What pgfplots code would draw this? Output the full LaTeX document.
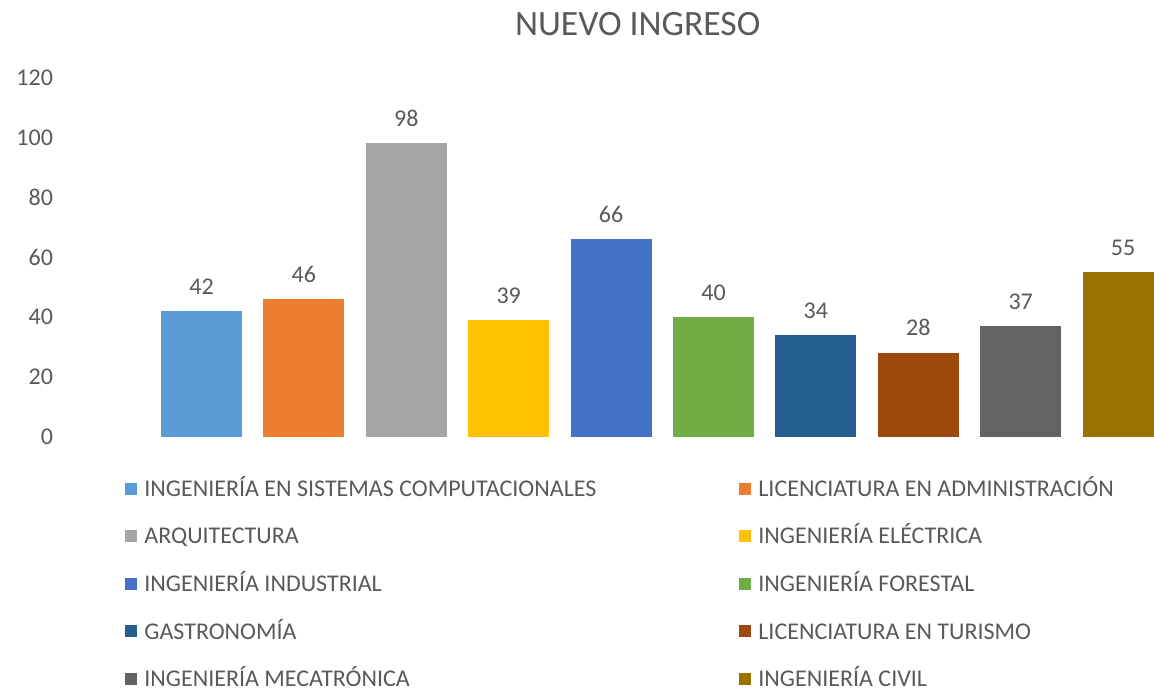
\documentclass[border=0pt]{standalone}
\usepackage{pgfplots}
\pgfplotsset{compat=1.18}
\usepackage{fontspec}
\setmainfont{Carlito}
\definecolor{txt}{HTML}{595959}
\definecolor{c1}{HTML}{5B9BD5}
\definecolor{c2}{HTML}{ED7D31}
\definecolor{c3}{HTML}{A5A5A5}
\definecolor{c4}{HTML}{FFC000}
\definecolor{c5}{HTML}{4472C4}
\definecolor{c6}{HTML}{70AD47}
\definecolor{c7}{HTML}{255E91}
\definecolor{c8}{HTML}{9E480E}
\definecolor{c9}{HTML}{636363}
\definecolor{c10}{HTML}{997300}
\begin{document}
\begin{tikzpicture}
\useasboundingbox (0,0) rectangle (577pt,-346pt);
\begin{axis}[
  at={(75.15pt,-218.25pt)}, anchor=south west,
  scale only axis, width=512pt, height=179.4pt,
  xmin=-0.5, xmax=9.5, ymin=0, ymax=120,
  ytick={0,20,...,120}, xtick=\empty,
  axis line style={draw=none}, major tick length=0pt,
  ybar, bar width=40.5pt, bar shift=0pt,
  /pgf/number format/assume math mode=true,
  yticklabel style={font=\fontsize{12}{14}\selectfont, text=txt, xshift=-45.15pt},
  nodes near coords,
  nodes near coords style={font=\fontsize{12}{14}\selectfont, text=txt, yshift=4.8pt},
  title={NUEVO INGRESO},
  title style={at={(axis description cs:0.476,1.1163)}, anchor=center, yshift=0pt, font=\fontsize{17.8}{21}\selectfont, text=txt},
  legend columns=2,
  legend style={draw=none, fill=none, at={(-0.0247,-0.4083)}, anchor=west,
    font=\fontsize{12}{14}\selectfont, text=txt, row sep=8.25pt, inner sep=0pt,
    nodes={inner sep=2pt}, cells={anchor=base west}},
  legend image code/.code={\fill[#1] (0pt,0.9pt) rectangle (6pt,6.9pt); \path (7.5pt,0pt);},
]
\addplot[fill=c1, draw=none] coordinates {(0,42)};
\addlegendentry{\makebox[295.5pt][l]{INGENIERÍA EN SISTEMAS COMPUTACIONALES}}
\addplot[fill=c2, draw=none] coordinates {(1,46)};
\addlegendentry{LICENCIATURA EN ADMINISTRACIÓN}
\addplot[fill=c3, draw=none] coordinates {(2,98)};
\addlegendentry{\makebox[295.5pt][l]{ARQUITECTURA}}
\addplot[fill=c4, draw=none] coordinates {(3,39)};
\addlegendentry{INGENIERÍA ELÉCTRICA}
\addplot[fill=c5, draw=none] coordinates {(4,66)};
\addlegendentry{\makebox[295.5pt][l]{INGENIERÍA INDUSTRIAL}}
\addplot[fill=c6, draw=none] coordinates {(5,40)};
\addlegendentry{INGENIERÍA FORESTAL}
\addplot[fill=c7, draw=none] coordinates {(6,34)};
\addlegendentry{\makebox[295.5pt][l]{GASTRONOMÍA}}
\addplot[fill=c8, draw=none] coordinates {(7,28)};
\addlegendentry{LICENCIATURA EN TURISMO}
\addplot[fill=c9, draw=none] coordinates {(8,37)};
\addlegendentry{\makebox[295.5pt][l]{INGENIERÍA MECATRÓNICA}}
\addplot[fill=c10, draw=none] coordinates {(9,55)};
\addlegendentry{INGENIERÍA CIVIL}
\end{axis}
\end{tikzpicture}
\end{document}
